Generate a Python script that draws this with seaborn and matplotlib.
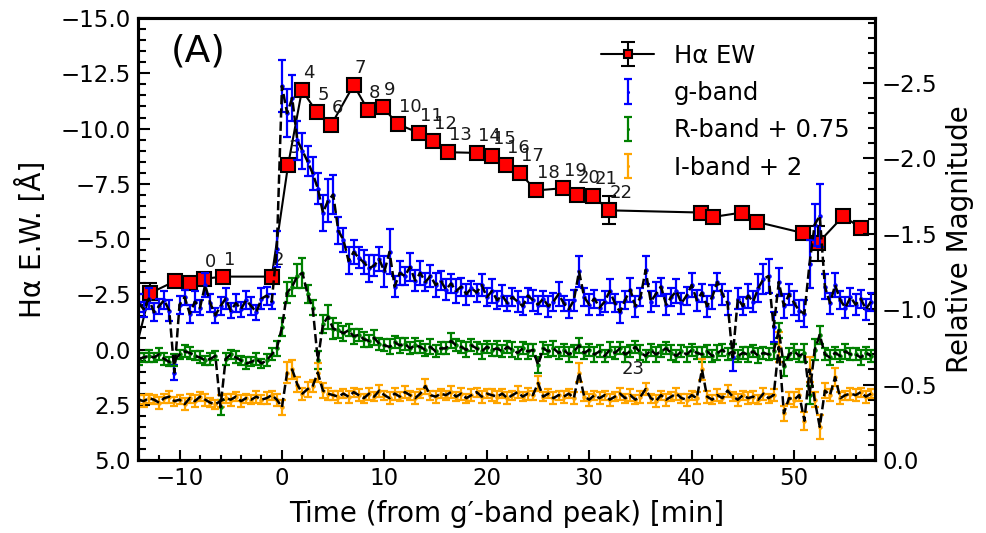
import numpy as np
import matplotlib
matplotlib.use('Agg')
import matplotlib.pyplot as plt
import seaborn as sns
from matplotlib.ticker import MultipleLocator

sns.set_style('ticks', rc={'axes.edgecolor': 'black', 'text.color': 'black',
                           'xtick.color': 'black', 'ytick.color': 'black',
                           'axes.labelcolor': 'black'})
plt.rcParams['font.family'] = ['DejaVu Sans']

# photometry cadence (min from g'-band peak)
time_min = np.arange(-14.0, 58.0, 0.5)

# relative magnitudes (right axis)
g_mag = [-1.04, -1.00, -1.07, -0.98, -1.02, -1.06, -0.99, -0.58, -1.03, -1.08,
         -0.97, -1.05, -1.01, -1.16, -1.04, -0.96, -1.02, -1.07, -0.99, -1.04,
         -1.00, -1.06, -1.02, -0.98, -1.07, -1.09, -1.05, -1.40, -2.48, -2.30,
         -2.40, -2.12, -2.05, -1.98, -1.90, -1.80, -1.64, -1.72, -1.76, -1.52,
         -1.46, -1.32, -1.38, -1.34, -1.31, -1.27, -1.29, -1.33, -1.25, -1.38,
         -1.15, -1.24, -1.22, -1.28, -1.19, -1.24, -1.18, -1.22, -1.16, -1.19,
         -1.13, -1.17, -1.12, -1.15, -1.10, -1.14, -1.11, -1.16, -1.08, -1.12,
         -1.06, -1.09, -1.04, -1.08, -1.05, -1.02, -1.09, -1.06, -1.03, -1.07,
         -1.02, -1.05, -1.10, -1.04, -1.00, -1.06, -1.25, -1.08, -1.03, -1.07,
         -1.01, -1.05, -1.12, -1.04, -0.98, -1.06, -1.13, -1.02, -1.08, -1.26,
         -1.05, -1.10, -1.15, -1.03, -1.08, -1.12, -1.04, -1.09, -1.16, -1.06,
         -1.11, -1.02, -1.08, -1.18, -1.10, -1.04, -0.68, -1.07, -1.02, -1.09,
         -1.05, -1.14, -1.20, -1.22, -0.88, -1.18, -1.02, -1.10, -1.04, -0.99,
         -0.97, -1.30, -1.56, -1.62, -1.15, -1.04, -1.16, -1.06, -1.01, -1.08,
         -1.03, -1.07, -1.00, -1.05]
g_err = [0.06, 0.05, 0.07, 0.06, 0.05, 0.06, 0.07, 0.05, 0.06, 0.05,
         0.06, 0.07, 0.05, 0.08, 0.06, 0.05, 0.06, 0.07, 0.05, 0.06,
         0.05, 0.06, 0.06, 0.05, 0.07, 0.06, 0.05, 0.12, 0.17, 0.16,
         0.15, 0.13, 0.12, 0.10, 0.11, 0.10, 0.12, 0.14, 0.13, 0.09,
         0.08, 0.09, 0.08, 0.07, 0.08, 0.09, 0.07, 0.08, 0.10, 0.15,
         0.07, 0.08, 0.06, 0.09, 0.07, 0.08, 0.06, 0.07, 0.08, 0.06,
         0.07, 0.06, 0.08, 0.06, 0.07, 0.05, 0.06, 0.07, 0.06, 0.08,
         0.06, 0.07, 0.05, 0.06, 0.07, 0.06, 0.05, 0.07, 0.06, 0.05,
         0.07, 0.06, 0.08, 0.05, 0.06, 0.07, 0.10, 0.06, 0.07, 0.06,
         0.05, 0.07, 0.08, 0.06, 0.07, 0.06, 0.08, 0.07, 0.06, 0.09,
         0.07, 0.08, 0.06, 0.07, 0.06, 0.08, 0.07, 0.06, 0.08, 0.07,
         0.06, 0.07, 0.08, 0.06, 0.07, 0.08, 0.09, 0.07, 0.06, 0.08,
         0.07, 0.09, 0.10, 0.11, 0.10, 0.09, 0.08, 0.07, 0.08, 0.07,
         0.09, 0.16, 0.14, 0.21, 0.08, 0.07, 0.08, 0.06, 0.07, 0.06,
         0.07, 0.06, 0.07, 0.06]

r_mag = [-0.67, -0.68, -0.69, -0.68, -0.70, -0.67, -0.65, -0.66, -0.70, -0.72,
         -0.71, -0.69, -0.68, -0.66, -0.67, -0.69, -0.35, -0.67, -0.70, -0.68,
         -0.66, -0.64, -0.65, -0.67, -0.64, -0.66, -0.70, -0.74, -0.88, -1.11,
         -1.15, -1.22, -1.24, -1.10, -1.01, -0.66, -0.90, -0.95, -0.87, -0.86,
         -0.84, -0.86, -0.82, -0.83, -0.80, -0.79, -0.81, -0.77, -0.76, -0.75,
         -0.78, -0.76, -0.77, -0.74, -0.76, -0.75, -0.73, -0.75, -0.72, -0.74,
         -0.74, -0.79, -0.76, -0.75, -0.73, -0.76, -0.74, -0.72, -0.75, -0.73,
         -0.74, -0.72, -0.75, -0.73, -0.71, -0.74, -0.72, -0.73, -0.63, -0.74,
         -0.72, -0.74, -0.71, -0.73, -0.70, -0.72, -0.76, -0.71, -0.73, -0.70,
         -0.72, -0.69, -0.73, -0.71, -0.74, -0.70, -0.72, -0.75, -0.71, -0.69,
         -0.73, -0.70, -0.72, -0.74, -0.71, -0.69, -0.72, -0.70, -0.73, -0.71,
         -0.70, -0.72, -0.69, -0.71, -0.73, -0.70, -0.72, -0.69, -0.71, -0.70,
         -0.72, -0.69, -0.71, -0.70, -0.72, -0.86, -0.62, -0.70, -0.72, -0.69,
         -0.71, -0.43, -0.73, -0.83, -0.70, -0.68, -0.71, -0.69, -0.72, -0.70,
         -0.70, -0.68, -0.71, -0.69]
r_err = [0.04, 0.03, 0.04, 0.03, 0.04, 0.04, 0.03, 0.04, 0.03, 0.04,
         0.04, 0.03, 0.04, 0.03, 0.04, 0.03, 0.05, 0.04, 0.03, 0.04,
         0.03, 0.04, 0.03, 0.04, 0.03, 0.04, 0.04, 0.05, 0.06, 0.07,
         0.06, 0.08, 0.10, 0.06, 0.05, 0.06, 0.06, 0.08, 0.07, 0.05,
         0.05, 0.04, 0.05, 0.04, 0.05, 0.04, 0.05, 0.04, 0.04, 0.05,
         0.04, 0.05, 0.04, 0.04, 0.05, 0.04, 0.04, 0.05, 0.04, 0.04,
         0.04, 0.05, 0.04, 0.04, 0.05, 0.04, 0.04, 0.05, 0.04, 0.04,
         0.05, 0.04, 0.04, 0.05, 0.04, 0.04, 0.05, 0.04, 0.05, 0.04,
         0.04, 0.05, 0.04, 0.04, 0.05, 0.04, 0.05, 0.04, 0.04, 0.05,
         0.04, 0.04, 0.05, 0.04, 0.04, 0.05, 0.04, 0.04, 0.05, 0.04,
         0.04, 0.05, 0.04, 0.04, 0.05, 0.04, 0.04, 0.05, 0.04, 0.04,
         0.05, 0.04, 0.04, 0.05, 0.04, 0.04, 0.05, 0.04, 0.04, 0.05,
         0.04, 0.05, 0.04, 0.04, 0.05, 0.05, 0.06, 0.04, 0.05, 0.04,
         0.06, 0.06, 0.07, 0.06, 0.04, 0.05, 0.04, 0.04, 0.05, 0.04,
         0.04, 0.05, 0.04, 0.04]

i_mag = [-0.40, -0.39, -0.41, -0.40, -0.38, -0.41, -0.42, -0.39, -0.40, -0.37,
         -0.41, -0.39, -0.42, -0.40, -0.38, -0.37, -0.39, -0.41, -0.40, -0.42,
         -0.39, -0.41, -0.40, -0.42, -0.40, -0.41, -0.43, -0.40, -0.35, -0.58,
         -0.60, -0.50, -0.44, -0.47, -0.49, -0.58, -0.46, -0.44, -0.43, -0.42,
         -0.44, -0.42, -0.45, -0.43, -0.41, -0.44, -0.42, -0.46, -0.43, -0.41,
         -0.44, -0.42, -0.45, -0.43, -0.41, -0.44, -0.49, -0.43, -0.42, -0.44,
         -0.43, -0.45, -0.42, -0.44, -0.41, -0.43, -0.45, -0.42, -0.44, -0.43,
         -0.42, -0.44, -0.41, -0.43, -0.45, -0.42, -0.44, -0.43, -0.51, -0.42,
         -0.44, -0.41, -0.43, -0.42, -0.44, -0.41, -0.58, -0.42, -0.40, -0.43,
         -0.41, -0.43, -0.40, -0.42, -0.44, -0.41, -0.43, -0.40, -0.42, -0.47,
         -0.41, -0.39, -0.43, -0.40, -0.42, -0.44, -0.41, -0.40, -0.43, -0.41,
         -0.60, -0.42, -0.40, -0.43, -0.41, -0.46, -0.42, -0.40, -0.43, -0.41,
         -0.42, -0.40, -0.44, -0.41, -0.43, -0.75, -0.31, -0.41, -0.40, -0.43,
         -0.26, -0.60, -0.40, -0.22, -0.46, -0.43, -0.55, -0.41, -0.43, -0.44,
         -0.43, -0.45, -0.42, -0.44]
i_err = [0.03, 0.04, 0.03, 0.03, 0.04, 0.03, 0.04, 0.03, 0.03, 0.04,
         0.03, 0.04, 0.03, 0.04, 0.03, 0.03, 0.04, 0.03, 0.04, 0.03,
         0.04, 0.03, 0.03, 0.04, 0.03, 0.04, 0.03, 0.04, 0.05, 0.07,
         0.06, 0.05, 0.04, 0.05, 0.04, 0.06, 0.05, 0.04, 0.03, 0.04,
         0.03, 0.04, 0.03, 0.04, 0.03, 0.04, 0.03, 0.04, 0.03, 0.04,
         0.04, 0.03, 0.04, 0.03, 0.04, 0.03, 0.05, 0.03, 0.04, 0.03,
         0.03, 0.04, 0.03, 0.04, 0.03, 0.04, 0.03, 0.04, 0.03, 0.04,
         0.04, 0.03, 0.04, 0.03, 0.04, 0.03, 0.04, 0.03, 0.05, 0.03,
         0.03, 0.04, 0.03, 0.04, 0.03, 0.04, 0.06, 0.03, 0.04, 0.03,
         0.04, 0.03, 0.04, 0.03, 0.04, 0.03, 0.04, 0.03, 0.04, 0.04,
         0.03, 0.04, 0.03, 0.04, 0.03, 0.04, 0.03, 0.04, 0.03, 0.04,
         0.07, 0.04, 0.03, 0.04, 0.03, 0.04, 0.03, 0.04, 0.03, 0.04,
         0.04, 0.03, 0.04, 0.03, 0.04, 0.10, 0.05, 0.04, 0.05, 0.04,
         0.06, 0.08, 0.05, 0.08, 0.05, 0.04, 0.06, 0.04, 0.03, 0.04,
         0.04, 0.03, 0.04, 0.03]

# H-alpha equivalent width (left axis)
ha_time = [-14.6, -12.9, -10.4, -9.0, -7.6, -5.8, -1.0, 0.6, 1.95, 3.4, 4.8,
           7.0, 8.4, 9.85, 11.3, 13.4, 14.7, 16.2, 19.0, 20.5, 21.9, 23.2,
           24.8, 27.4, 28.8, 30.4, 31.9, 40.9, 42.1, 44.9, 46.4, 50.9, 52.3,
           54.8, 56.5]
ha_ew = [0.6, -2.55, -3.1, -3.0, -3.2, -3.3, -3.3, -8.35, -11.74, -10.75,
         -10.16, -11.97, -10.84, -10.97, -10.2, -9.8, -9.43, -8.93, -8.9,
         -8.76, -8.35, -8.0, -7.2, -7.3, -7.0, -6.95, -6.3, -6.2, -6.0, -6.2,
         -5.77, -5.27, -4.8, -6.04, -5.5]
ha_err = [0.2, 0.45, 0.2, 0.2, 0.2, 0.2, 0.2, 0.2, 0.2, 0.2, 0.2, 0.2, 0.2,
          0.2, 0.2, 0.2, 0.2, 0.2, 0.2, 0.2, 0.2, 0.2, 0.2, 0.2, 0.2, 0.2,
          0.63, 0.2, 0.2, 0.2, 0.2, 0.2, 0.8, 0.2, 0.2]
ha_labels = ['', '', '', '', '0', '1', '2', '3', '4', '5', '6', '7', '8', '9',
             '10', '11', '12', '13', '14', '15', '16', '17', '18', '19', '20',
             '21', '22', '', '', '', '', '', '', '', '']

bands = [(g_mag, g_err, 'blue', 'g-band'),
         (r_mag, r_err, 'green', 'R-band + 0.75'),
         (i_mag, i_err, 'orange', 'I-band + 2')]

fig = plt.figure(figsize=(9.86, 5.33), dpi=100)
ax = fig.add_axes([0.140, 0.137, 0.7475, 0.829])
ax2 = ax.twinx()

ha = ax.errorbar(ha_time, ha_ew, yerr=ha_err, fmt='-s', color='k', lw=1.5,
                 ms=9.5, mfc='red', mec='k', mew=1.5, capsize=5,
                 elinewidth=1.5, capthick=1.5)
for x, y, lab in zip(ha_time, ha_ew, ha_labels):
    if lab:
        ax.annotate(lab, (x, y), xytext=(1, 17), textcoords='offset pixels',
                    ha='left', va='center', fontsize=13, color='0.1')
ax.text(34.3, 0.9, '23', fontsize=13, color='0.1', ha='center', va='center')

handles = [ha]
for mag, err, col, lab in bands:
    h = ax2.errorbar(time_min, mag, yerr=err, fmt='.', color=col, ms=4.5,
                     elinewidth=1.6, capsize=2.8, capthick=1.6, zorder=2)
    sns.lineplot(x=time_min, y=mag, ax=ax2, color='k', linestyle='--',
                 lw=1.8, zorder=3, legend=False)
    handles.append(h)

ax.set_xlim(-14.05, 57.9)
ax.set_ylim(5, -15)
ax2.set_ylim(0, -2.93)

ax.xaxis.set_major_locator(MultipleLocator(10))
ax.xaxis.set_minor_locator(MultipleLocator(2))
ax.yaxis.set_major_locator(MultipleLocator(2.5))
ax.yaxis.set_minor_locator(MultipleLocator(0.5))
ax2.yaxis.set_major_locator(MultipleLocator(0.5))
ax2.yaxis.set_minor_locator(MultipleLocator(0.1))

ax.tick_params(which='both', direction='in', width=1.5, labelsize=16.5,
               top=False, right=False, pad=5)
ax.tick_params(axis='y', which='major', length=8.5)
ax.tick_params(axis='y', which='minor', length=5.5)
ax.tick_params(axis='x', which='major', length=7)
ax.tick_params(axis='x', which='minor', length=3.5)
ax2.tick_params(which='both', direction='in', width=1.5, labelsize=16.5, pad=5)
ax2.tick_params(which='major', length=8.5)
ax2.tick_params(which='minor', length=5)

for a in (ax, ax2):
    for sp in a.spines.values():
        sp.set_linewidth(2.2)

ax.set_xlabel('Time (from g\u2032-band peak) [min]', fontsize=20, labelpad=7)
ax.set_ylabel('H\u03b1 E.W. [\u00c5]', fontsize=20, labelpad=10)
ax2.set_ylabel('Relative Magnitude', fontsize=20, labelpad=6)

ax.text(0.045, 0.965, '(A)', transform=ax.transAxes, fontsize=27,
        va='top', ha='left')

ax2.legend(handles, ['H\u03b1 EW', 'g-band', 'R-band + 0.75', 'I-band + 2'],
           loc='upper right', frameon=False, fontsize=17.5, markerscale=0.55,
           handlelength=2.2, handletextpad=0.8, labelspacing=0.55,
           borderaxespad=0.65)

fig.savefig('out.png', dpi=100)
